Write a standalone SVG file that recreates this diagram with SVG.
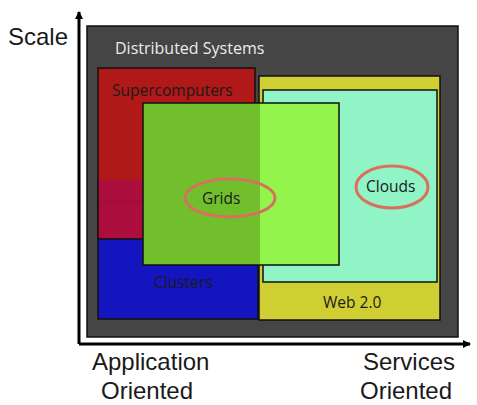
<svg xmlns="http://www.w3.org/2000/svg" width="477" height="405" viewBox="0 0 477 405">
<defs>
<style>
.t{font-family:"Open Sans","Liberation Sans",sans-serif;}
.box{stroke:#111;stroke-width:1.5;}
.lbl{font-size:15.5px;fill:#1a1a1a;}
.ax{font-family:"Liberation Sans",Arial,sans-serif;font-size:24px;fill:#1a1a1a;}
.ring{fill:none;stroke:#d8705e;stroke-width:3;}
</style>
<marker id="ah" markerWidth="8" markerHeight="8" refX="7" refY="4" orient="auto" markerUnits="userSpaceOnUse" viewBox="0 0 8 8">
<path d="M0,0 L8,4 L0,8 z" fill="#000"/>
</marker>
</defs>
<rect width="477" height="405" fill="#fff"/>
<g id="connectors">
<path d="M79,344 L79,12" stroke="#000" stroke-width="3" fill="none" marker-end="url(#ah)"/>
<path d="M79,344 L470,344" stroke="#000" stroke-width="3" fill="none" marker-end="url(#ah)"/>
</g>
<g id="distributed">
<rect x="87" y="26" width="371" height="311" fill="#454545" class="box"/>
<text class="t" x="115" y="54" font-size="16" fill="#ececec">Distributed Systems</text>
</g>
<g id="clusters">
<rect x="98" y="180" width="160" height="139" fill="#1515c0" class="box"/>
<text class="t lbl" x="154" y="288">Clusters</text>
</g>
<g id="supercomputers">
<rect x="98" y="68" width="157" height="112" fill="#b11818"/>
<rect x="98" y="180" width="157" height="59" fill="#ab0e3c"/>
<line x1="98" y1="201" x2="255" y2="201" stroke="#9a1030" stroke-width="1"/>
<rect x="98" y="68" width="157" height="171" fill="none" class="box"/>
<text class="t lbl" x="112" y="96">Supercomputers</text>
</g>
<g id="web20">
<rect x="259" y="76" width="181" height="244" fill="#cfcf34" class="box"/>
<text class="t lbl" x="323" y="308">Web 2.0</text>
</g>
<g id="clouds">
<rect x="263" y="90" width="174" height="192" fill="#90f4c6" class="box"/>
<ellipse cx="392" cy="187" rx="36" ry="21" class="ring"/>
<text class="t lbl" x="366" y="192">Clouds</text>
</g>
<g id="grids">
<rect x="143" y="103" width="117" height="162" fill="#72bf2e"/>
<rect x="260" y="103" width="79" height="162" fill="#93f44b"/>
<rect x="143" y="103" width="196" height="162" fill="none" class="box"/>
<ellipse cx="230" cy="198" rx="45" ry="19" class="ring"/>
<text class="t lbl" x="202" y="204">Grids</text>
</g>
<g id="axis-labels">
<text class="ax" x="8" y="45">Scale</text>
<text class="ax" x="92" y="370">Application</text>
<text class="ax" x="101" y="399">Oriented</text>
<text class="ax" x="363" y="370">Services</text>
<text class="ax" x="360" y="399">Oriented</text>
</g>
</svg>
